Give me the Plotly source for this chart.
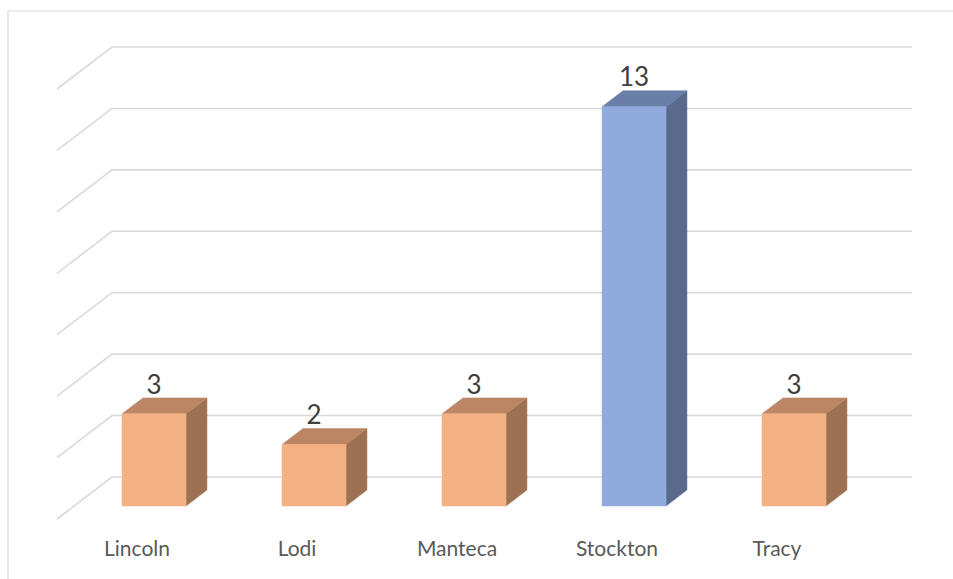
import plotly.graph_objects as go

# ---- data ----
categories = ["Lincoln", "Lodi", "Manteca", "Stockton", "Tracy"]
values = [3, 2, 3, 13, 3]
highlight = "Stockton"
gridlines = [0, 2, 4, 6, 8, 10, 12, 14]

# ---- styling / projection ----
W, H = 953, 579
DX = 0.34375      # full-depth horizontal shift (category units)
DY = 1.3674       # full-depth vertical shift (value units)
Z_FRONT, Z_BACK = 0.31, 0.69   # bar depth extent (0=front, 1=back wall)
BAR_HALF = 0.2

ORANGE = dict(front="#F4B183", top="#BC8563", side="#9C7252")
BLUE = dict(front="#8FAADC", top="#6A7FA7", side="#5A6A8C")
GRID = "#D9D9D9"


def P(x, v, z):
    """oblique projection: category position x, value v, depth z"""
    return x - (1 - z) * DX, v - (1 - z) * DY


fig = go.Figure()

# gridlines: left wall diagonal + back wall horizontal
gx, gy = [], []
n = len(categories)
for k in gridlines:
    x0, y0 = P(0, k, 0)
    x1, y1 = P(0, k, 1)
    x2, y2 = P(n, k, 1)
    gx += [x0, x1, x2, None]
    gy += [y0, y1, y2, None]
fig.add_trace(go.Scatter(x=gx, y=gy, mode="lines",
                         line=dict(color=GRID, width=1.6),
                         hoverinfo="skip", showlegend=False))


def poly(pts, color):
    xs = [p[0] for p in pts] + [pts[0][0]]
    ys = [p[1] for p in pts] + [pts[0][1]]
    fig.add_trace(go.Scatter(x=xs, y=ys, mode="lines", fill="toself",
                             fillcolor=color, line=dict(color=color, width=0.5),
                             hoverinfo="skip", showlegend=False))


lab_x, lab_y, lab_t = [], [], []
for i, (cat, v) in enumerate(zip(categories, values)):
    col = BLUE if cat == highlight else ORANGE
    xl, xr = i + 0.5 - BAR_HALF, i + 0.5 + BAR_HALF
    # side face
    poly([P(xr, 0, Z_FRONT), P(xr, 0, Z_BACK), P(xr, v, Z_BACK), P(xr, v, Z_FRONT)], col["side"])
    # top face
    poly([P(xl, v, Z_FRONT), P(xl, v, Z_BACK), P(xr, v, Z_BACK), P(xr, v, Z_FRONT)], col["top"])
    # front face
    poly([P(xl, 0, Z_FRONT), P(xr, 0, Z_FRONT), P(xr, v, Z_FRONT), P(xl, v, Z_FRONT)], col["front"])
    fx, fy = P(i + 0.5, v, Z_FRONT)
    lab_x.append(fx)
    lab_y.append(v - 0.07)
    lab_t.append(str(v))

# value labels
fig.add_trace(go.Scatter(x=lab_x, y=lab_y, text=lab_t, mode="text",
                         textposition="middle center",
                         textfont=dict(family="Lato", size=26, color="#404040"),
                         hoverinfo="skip", showlegend=False))

# category labels at front floor edge
cx = [P(i + 0.5, 0, 0)[0] for i in range(n)]
cy = [-2.4] * n
fig.add_trace(go.Scatter(x=cx, y=cy, text=categories, mode="text",
                         textposition="middle center",
                         textfont=dict(family="Lato", size=21, color="#595959"),
                         hoverinfo="skip", showlegend=False))

ppu = 430 / 14
fig.update_layout(
    width=W, height=H, autosize=False,
    margin=dict(l=0, r=0, t=0, b=0),
    paper_bgcolor="white", plot_bgcolor="white",
    xaxis=dict(range=[-112 / 160, (W - 112) / 160], visible=False, fixedrange=True),
    yaxis=dict(range=[-(H - 477) / ppu, 477 / ppu], visible=False, fixedrange=True),
    shapes=[dict(type="rect", xref="paper", yref="paper",
                 x0=8 / W, x1=1.02, y0=-0.02, y1=1 - 11 / H,
                 line=dict(color=GRID, width=1.2), layer="below")],
)

fig.write_html(
    "out.html",
    config={"displayModeBar": False},
    post_script="document.body.style.margin='0';document.body.style.overflow='hidden';",
)
